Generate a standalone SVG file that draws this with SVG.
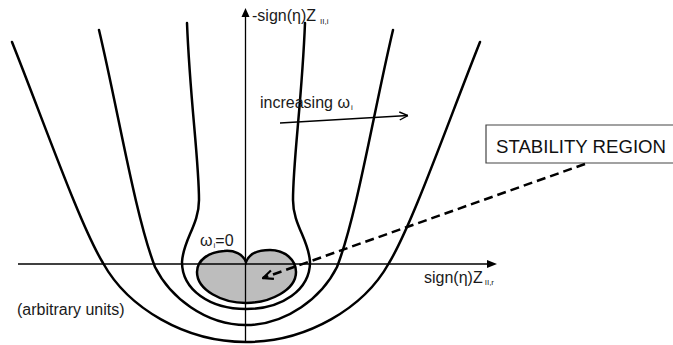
<svg xmlns="http://www.w3.org/2000/svg" width="673" height="345" viewBox="0 0 673 345">
<style>
.curve{fill:none;stroke:#000;stroke-width:2.5;stroke-linecap:round;stroke-linejoin:round}
.axis{fill:none;stroke:#000;stroke-width:1.3}
.lbl{font-family:"Liberation Sans",Arial,sans-serif;font-size:16px;fill:#1a1a1a}
.sub{font-size:8px}
</style>
<defs>
<marker id="openThin" markerUnits="userSpaceOnUse" viewBox="0 0 10 10" refX="9.5" refY="5" markerWidth="10" markerHeight="10" orient="auto">
<path d="M1,1 L9.5,5 L1,9" fill="none" stroke="#000" stroke-width="1.4"/>
</marker>
<marker id="openThick" markerUnits="userSpaceOnUse" viewBox="0 0 12 12" refX="11" refY="6" markerWidth="12" markerHeight="12" orient="auto">
<path d="M1,1.5 L11,6 L1,10.5" fill="none" stroke="#000" stroke-width="2.2"/>
</marker>
</defs>
<rect width="673" height="345" fill="#fff"/>

<g id="heart">
<path d="M246,262 C243,254 234,250 224,251 C209,252 197,260 197,272 C197,290 222,303 246,303 C270,303 296,290 296,272 C296,260 285,250 270,250 C258,250 249,254 246,262 Z" fill="#bdbdbd" stroke="#000" stroke-width="2.5"/>
</g>

<g id="axes">
<line class="axis" x1="18" y1="264" x2="490" y2="264"/>
<polygon points="497,264 487,260 487,268" fill="#000"/>
<line class="axis" x1="245.5" y1="343" x2="245.5" y2="15"/>
<polygon points="245.5,8 241.5,17 249.5,17" fill="#000"/>
</g>

<g id="curves">
<path id="curveA" class="curve" d="M12,42 C45,125 80,225 103,263 C128,308 185,342 246,342 C307,342 364,308 389,263 C412,225 447,125 480,42"/>
<path id="curveB" class="curve" d="M99,30 C118,110 135,215 155,267 C170,297 205,325 246,325 C287,325 322,297 337,267 C357,215 374,110 393,30"/>
<path id="curveC" class="curve" d="M187,23 C190,100 199,160 199,200 C199,225 183,240 182,262 C182,290 210,309 246,309 C282,309 310,290 310,262 C309,240 293,225 293,200 C293,160 302,100 305,23"/>
</g>

<g id="box">
<rect x="486" y="125" width="187" height="38" fill="#fff" stroke="none"/>
<path d="M673,125 H486 V163 H673" fill="none" stroke="#444" stroke-width="1.2"/>
<text x="496" y="153" font-family="'Liberation Sans',Arial,sans-serif" font-size="19" fill="#111" textLength="170" lengthAdjust="spacingAndGlyphs">STABILITY REGION</text>
</g>

<g id="connectors">
<line x1="280" y1="123" x2="408" y2="115.5" stroke="#000" stroke-width="1.5" marker-end="url(#openThin)"/>
<line x1="585" y1="164" x2="263" y2="278" stroke="#000" stroke-width="2.5" stroke-dasharray="9,5" marker-end="url(#openThick)"/>
</g>

<g id="labels">
<text class="lbl" x="252" y="21">-sign(η)Z<tspan class="sub" dx="4" dy="3">II,i</tspan></text>
<text class="lbl" x="424" y="283">sign(η)Z<tspan class="sub" dx="2" dy="2">II,r</tspan></text>
<text class="lbl" x="260" y="108">increasing ω<tspan class="sub" dx="1" dy="2">i</tspan></text>
<text class="lbl" x="200" y="246">ω<tspan class="sub" dx="1" dy="2">i</tspan><tspan dy="-2">=0</tspan></text>
<text class="lbl" x="17" y="315">(arbitrary units)</text>
</g>
</svg>
